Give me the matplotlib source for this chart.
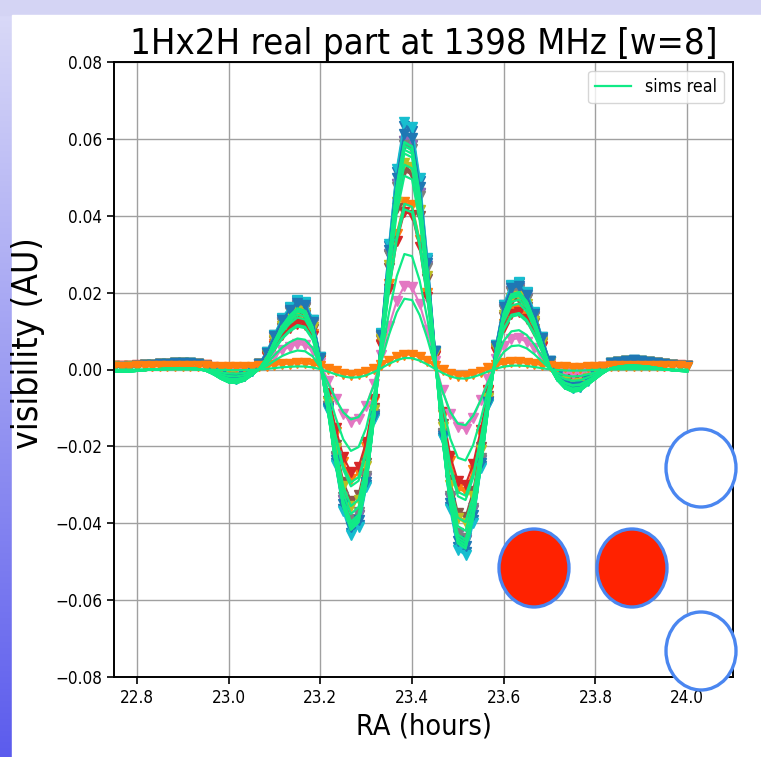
import numpy as np
import matplotlib
matplotlib.use("Agg")
import matplotlib.pyplot as plt
from matplotlib.patches import Ellipse, Rectangle
from matplotlib import font_manager as fm

# ---------------- data ----------------
ra_start = 22.75          # hours
ra_step_min = 1.0         # one sample per minute
n_samples = 76
ra_hours = ra_start + np.arange(n_samples) * ra_step_min / 60.0

# normalised fringe shape (one value per minute)
fringe_profile = [
    -0.009, -0.010, -0.009, -0.006, -0.003, 0.000, 0.002, 0.004, 0.006, 0.006,
    0.005, 0.002, -0.005, -0.020, -0.040, -0.055, -0.058, -0.048, -0.025, 0.002,
    0.050, 0.120, 0.185, 0.230, 0.260, 0.250, 0.180, 0.029, -0.181, -0.402,
    -0.586, -0.683, -0.651, -0.491, -0.218, 0.125, 0.481, 0.783, 0.969, 0.951,
    0.745, 0.426, 0.056, -0.300, -0.580, -0.741, -0.763, -0.633, -0.414, -0.159,
    0.078, 0.240, 0.320, 0.330, 0.290, 0.210, 0.110, 0.013, -0.045, -0.080,
    -0.095, -0.090, -0.065, -0.040, -0.015, 0.005, 0.012, 0.016, 0.017, 0.015,
    0.012, 0.007, 0.001, -0.003, -0.006, -0.008,
]

# measured baselines: fringe amplitude and small offset (AU)
meas_amp = [0.064, 0.0435, 0.060, 0.041, 0.060, 0.052, 0.0215, 0.059,
            0.054, 0.065, 0.062, 0.0032]
meas_offset = [0.0013, 0.0013, 0.0013, 0.0013, 0.0013, 0.0013, 0.0010, 0.0013,
               0.0013, 0.0013, 0.0013, 0.0008]

# simulated baselines
sims_amp = [0.061, 0.0445, 0.060, 0.043, 0.059, 0.055, 0.019, 0.058,
            0.052, 0.061, 0.060, 0.0031, 0.031]

title_text = "1Hx2H real part at 1398 MHz [w=8]"
x_label = "RA (hours)"
y_label = "visibility (AU)"
legend_label = "sims real"
x_ticks = [22.8, 23.0, 23.2, 23.4, 23.6, 23.8, 24.0]
y_ticks = [-0.08, -0.06, -0.04, -0.02, 0.0, 0.02, 0.04, 0.06, 0.08]

# ---------------- fonts ----------------
plt.rcParams['font.family'] = ['DejaVu Sans']
cond_path = fm.findfont(fm.FontProperties(family='DejaVu Sans', stretch='condensed'))
if 'Condensed' in cond_path:
    plt.rcParams['font.stretch'] = 'condensed'
    fscale = 1.0 / 0.9
else:
    fscale = 1.0

W, H = 761, 757
fig = plt.figure(figsize=(W / 100, H / 100), dpi=100)

# slide-like background: gradient strips left and top
bg = fig.add_axes([0, 0, 1, 1])
bg.set_xlim(0, 1)
bg.set_ylim(0, 1)
bg.axis('off')
g = np.linspace(0, 1, 256)[:, None, None]
c_top = np.array([0.86, 0.86, 0.97])
c_bot = np.array([0.36, 0.36, 0.93])
img = c_top * (1 - g) + c_bot * g
bg.imshow(img, aspect='auto', extent=[0, 1, 0, 1], zorder=0)
bg.add_patch(Rectangle((0, 1 - 15 / H), 1, 15 / H, color='#d4d4f4', zorder=1))
bg.add_patch(Rectangle((12 / W, 0), 1 - 12 / W, 1 - 15 / H, color='white', zorder=2))

ax = fig.add_axes([114 / W, 1 - 677 / H, (733 - 114) / W, (677 - 62) / H])
ax.set_zorder(3)

colors = plt.rcParams['axes.prop_cycle'].by_key()['color']
prof = np.array(fringe_profile)
for i, (a, o) in enumerate(zip(meas_amp, meas_offset)):
    ax.plot(ra_hours, a * prof + o, '-', marker='v', color=colors[i % 10],
            lw=1.5, ms=6.5)

sims_color = '#10ea86'
for j, a in enumerate(sims_amp):
    ax.plot(ra_hours, a * prof, '-', color=sims_color, lw=1.6,
            label=legend_label if j == 0 else None)

ax.set_xlim(22.75, 24.1)
ax.set_ylim(-0.08, 0.08)
ax.set_xticks(x_ticks)
ax.set_yticks(y_ticks)
ax.set_xticklabels([f"{v:.1f}" for v in x_ticks])
ax.set_yticklabels([f"{v:.2f}".replace('-', '\u2212') for v in y_ticks])
ax.tick_params(labelsize=11 * fscale, width=1.2, length=5)
ax.grid(True, color='#a0a0a0', lw=1.0)
for s in ax.spines.values():
    s.set_linewidth(1.4)

ax.set_title(title_text, fontsize=23.5 * fscale, pad=6)
ax.set_xlabel(x_label, fontsize=18.6 * fscale, labelpad=4)
ax.set_ylabel(y_label, fontsize=23 * fscale)
ax.yaxis.set_label_coords(-0.111, 0.543)
ax.legend(loc='upper right', fontsize=11.5 * fscale, framealpha=0.8)

# overlay shapes (slide annotations)
edge = '#4a86f0'
def add_ell(cx, cy, fc):
    e = Ellipse((cx / W, 1 - cy / H), 70 / W, 78 / H, transform=fig.transFigure,
                facecolor=fc, edgecolor=edge, lw=2.4, zorder=10)
    fig.add_artist(e)

add_ell(534, 568, '#ff2200')
add_ell(632, 568, '#ff2200')
add_ell(701, 468, 'white')
add_ell(701, 651, 'white')

fig.savefig('out.png', dpi=100)
